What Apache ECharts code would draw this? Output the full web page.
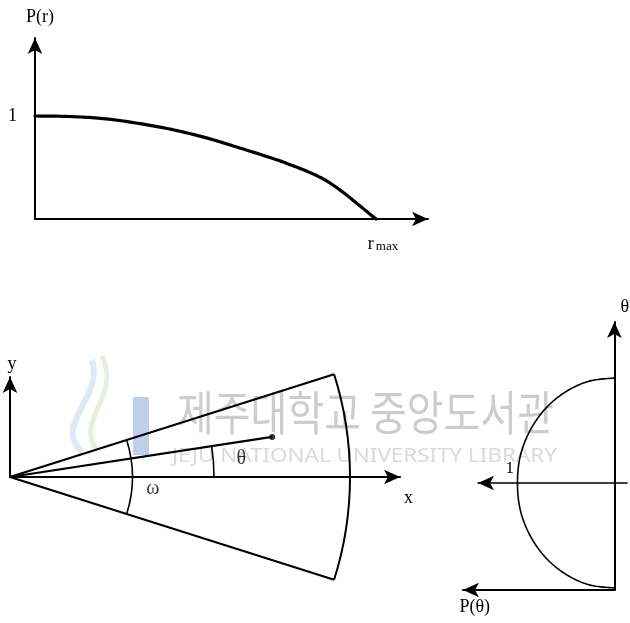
<!DOCTYPE html>
<html>
<head>
<meta charset="utf-8">
<script src="https://cdn.jsdelivr.net/npm/echarts@6/dist/echarts.min.js"></script>
<style>
  html, body { margin: 0; padding: 0; background: #fff; }
  #chart { width: 630px; height: 623px; }
</style>
</head>
<body>
<div id="chart"></div>
<script>
// Radial falloff P(r); r in units of r_max
const radialR = [0, 0.1, 0.2, 0.3, 0.4, 0.5, 0.6, 0.7, 0.75, 0.8, 0.85, 0.9, 0.95, 1];
const radialP = [1, 0.995, 0.975, 0.93, 0.87, 0.79, 0.69, 0.585, 0.525, 0.46, 0.38, 0.268, 0.135, 0];

// Sector geometry: angles in degrees, radii in units of the sector radius
const sectorEdges = [17.6, -17.6];
const sectorRadius = 1;
const thetaDeg = 8.7;
const pointRadius = 0.78;
const omegaArcRadius = 0.36;
const thetaArcRadius = 0.6;

// Angular profile P(θ); θ in units of half the sector opening
const profileTheta = [-1, -0.97, -0.87, -0.71, -0.5, -0.26, 0, 0.26, 0.5, 0.71, 0.87, 0.97, 1];
const profileP     = [0, 0.26, 0.5, 0.71, 0.87, 0.97, 1, 0.97, 0.87, 0.71, 0.5, 0.26, 0];

const SERIF = '"Liberation Serif", "DejaVu Serif", serif';
const INK = '#000';
const deg = Math.PI / 180;

// pixels per unit for each panel
const topScaleX = 341, topScaleY = 103;
const sectorScale = 340;
const profileScale = 105;

const arrowAxis = (extra) => Object.assign({
  show: true,
  onZero: true,
  symbol: ['none', 'arrow'],
  symbolSize: [11, 16],
  lineStyle: { color: INK, width: 2 }
}, extra || {});

const rayItems = sectorEdges.map(a => [a, sectorRadius]).concat([[thetaDeg, pointRadius]]);
const arcItems = [
  [sectorRadius, sectorEdges[1], sectorEdges[0]],
  [omegaArcRadius, sectorEdges[1], sectorEdges[0]],
  [thetaArcRadius, 0, thetaDeg]
];

// Catmull-Rom spline through screen points, sampled for a polyline
const splineThrough = (pts, steps) => {
  const out = [pts[0]];
  for (let i = 0; i < pts.length - 1; i++) {
    const p0 = pts[Math.max(i - 1, 0)], p1 = pts[i], p2 = pts[i + 1], p3 = pts[Math.min(i + 2, pts.length - 1)];
    for (let s = 1; s <= steps; s++) {
      const t = s / steps, t2 = t * t, t3 = t2 * t;
      const f = (a, b, c, d) => 0.5 * (2 * b + (-a + c) * t + (2 * a - 5 * b + 4 * c - d) * t2 + (-a + 3 * b - 3 * c + d) * t3);
      out.push([f(p0[0], p1[0], p2[0], p3[0]), f(p0[1], p1[1], p2[1], p3[1])]);
    }
  }
  return out;
};

// a smooth curve through [x, y] pairs, placed with the series' own axes
const smoothCurve = (pairs, width) => ({
  type: 'custom', clip: false, silent: true,
  renderItem: (params, api) => params.dataIndex === 0 ? {
    type: 'polyline',
    shape: { points: splineThrough(pairs.map(p => api.coord(p)), 12) },
    style: { stroke: INK, fill: null, lineWidth: width, lineJoin: 'round', lineCap: 'round' }
  } : null,
  data: pairs
});

const radialCurve = radialR.map((r, i) => [r, radialP[i]]);
const profileCurve = profileTheta.map((t, i) => [profileP[i], t]);

const chart = echarts.init(document.getElementById('chart'), null, { renderer: 'canvas' });

chart.setOption({
  animation: false,
  backgroundColor: '#fff',
  textStyle: { fontFamily: SERIF, color: INK },
  graphic: [
    // library watermark
    { type: 'bezierCurve', z: 0, shape: { x1: 82, y1: 452, cpx1: 52, cpy1: 425, cpx2: 104, cpy2: 398, x2: 92, y2: 360 }, style: { stroke: '#dbeaf6', lineWidth: 6, fill: null } },
    { type: 'bezierCurve', z: 0, shape: { x1: 97, y1: 450, cpx1: 74, cpy1: 420, cpx2: 122, cpy2: 396, x2: 102, y2: 356 }, style: { stroke: '#e4f0dd', lineWidth: 5, fill: null } },
    { type: 'rect', z: 0, shape: { x: 133, y: 397, width: 16, height: 58 }, style: { fill: '#bfd0ea' } },
    { type: 'text', z: 0, x: 177, y: 389, scaleY: 1.17, style: { text: '제주대학교 중앙도서관', font: '40px "Noto Sans CJK KR"', fill: '#cdcdcd' } },
    { type: 'text', z: 0, x: 172, y: 446, scaleX: 1.12, style: { text: 'JEJU NATIONAL UNIVERSITY LIBRARY', font: '20px "Noto Sans"', fill: '#dadada' } }
  ],
  grid: [
    { left: 35, top: 38, width: 393, height: 181 },
    { left: 10, top: 377, width: 390, height: 100 },
    { left: 478, top: 330, width: 149, height: 153 },
    { left: 463, top: 322, width: 164, height: 268 }
  ],
  xAxis: [
    {
      gridIndex: 0, type: 'value', min: 0, max: 393 / topScaleX, interval: 1,
      axisLine: arrowAxis(), axisTick: { show: false }, splitLine: { show: false },
      axisLabel: {
        margin: 16, color: INK,
        formatter: v => v === 1 ? '{r|r}{s|max}' : '',
        rich: {
          r: { fontFamily: SERIF, fontSize: 18, color: INK, padding: [0, 0, 5, 14] },
          s: { fontFamily: SERIF, fontSize: 13, color: INK, padding: [0, 0, 0, 2] }
        }
      }
    },
    {
      gridIndex: 1, type: 'value', min: 0, max: 390 / sectorScale,
      axisLine: arrowAxis(), axisTick: { show: false }, splitLine: { show: false }, axisLabel: { show: false },
      name: 'x', nameLocation: 'end', nameGap: 4,
      nameTextStyle: { fontFamily: SERIF, fontSize: 18, color: INK, verticalAlign: 'top', padding: [12, 0, 0, 0] }
    },
    {
      // θ = 0 reference line, marked at P = 1
      gridIndex: 2, type: 'value', inverse: true, min: 0, max: 149 / profileScale, interval: 1,
      axisLine: arrowAxis({ symbol: ['arrow', 'none'], lineStyle: { color: INK, width: 1.6 } }),
      axisTick: { show: false }, splitLine: { show: false },
      axisLabel: {
        inside: true, margin: 6, color: INK, fontFamily: SERIF, fontSize: 17,
        align: 'right', padding: [0, 8, 0, 0],
        formatter: v => v === 1 ? '1' : ''
      }
    },
    {
      gridIndex: 3, type: 'value', inverse: true, min: 0, max: 164 / profileScale, position: 'bottom',
      axisLine: arrowAxis({ onZero: false, symbol: ['arrow', 'none'] }),
      axisTick: { show: false }, splitLine: { show: false }, axisLabel: { show: false },
      name: 'P(θ)', nameLocation: 'end', nameGap: -27,
      nameTextStyle: { fontFamily: SERIF, fontSize: 18, color: INK, verticalAlign: 'top', padding: [8, 0, 0, 0] }
    }
  ],
  yAxis: [
    {
      gridIndex: 0, type: 'value', min: 0, max: 181 / topScaleY, interval: 1,
      axisLine: arrowAxis(), axisTick: { show: false }, splitLine: { show: false },
      axisLabel: { margin: 18, color: INK, fontFamily: SERIF, fontSize: 18, formatter: v => v === 1 ? '1' : '' },
      name: 'P(r)', nameLocation: 'end', nameGap: 12,
      nameTextStyle: { fontFamily: SERIF, fontSize: 18, color: INK, align: 'center', padding: [0, 0, 0, 10] }
    },
    {
      gridIndex: 1, type: 'value', min: 0, max: 100 / sectorScale,
      axisLine: arrowAxis(), axisTick: { show: false }, splitLine: { show: false }, axisLabel: { show: false },
      name: 'y', nameLocation: 'end', nameGap: 4,
      nameTextStyle: { fontFamily: SERIF, fontSize: 18, color: INK, align: 'center', padding: [0, 0, 0, 4] }
    },
    {
      gridIndex: 2, type: 'value', min: 0, max: 153 / profileScale, show: false
    },
    {
      gridIndex: 3, type: 'value', min: -107 / profileScale, max: 161 / profileScale,
      axisLine: arrowAxis(), axisTick: { show: false }, splitLine: { show: false }, axisLabel: { show: false },
      name: 'θ', nameLocation: 'end', nameGap: 6,
      nameTextStyle: { fontFamily: SERIF, fontSize: 18, color: INK, align: 'left', padding: [0, 0, 0, 6] }
    }
  ],
  series: [
    Object.assign(smoothCurve(radialCurve, 3.2), { xAxisIndex: 0, yAxisIndex: 0 }),
    {
      // sector edges and the direction of the point
      type: 'custom', xAxisIndex: 1, yAxisIndex: 1, clip: false,
      renderItem: (params, api) => {
        const a = api.value(0) * deg, len = api.value(1);
        const p0 = api.coord([0, 0]);
        const p1 = api.coord([len * Math.cos(a), len * Math.sin(a)]);
        return { type: 'line', shape: { x1: p0[0], y1: p0[1], x2: p1[0], y2: p1[1] }, style: { stroke: INK, lineWidth: 2.2 } };
      },
      data: rayItems
    },
    {
      // outer boundary and the ω / θ angle arcs
      type: 'custom', xAxisIndex: 1, yAxisIndex: 1, clip: false,
      renderItem: (params, api) => {
        const c = api.coord([0, 0]);
        const r = api.size([api.value(0), 0])[0];
        return {
          type: 'arc',
          shape: { cx: c[0], cy: c[1], r: r, startAngle: -api.value(2) * deg, endAngle: -api.value(1) * deg, clockwise: true },
          style: { stroke: INK, fill: null, lineWidth: params.dataIndex === 0 ? 2 : 1.6 }
        };
      },
      data: arcItems
    },
    {
      type: 'scatter', xAxisIndex: 1, yAxisIndex: 1, symbol: 'circle', symbolSize: 6, clip: false,
      itemStyle: { color: INK },
      data: [[pointRadius * Math.cos(thetaDeg * deg), pointRadius * Math.sin(thetaDeg * deg)]]
    },
    {
      type: 'scatter', xAxisIndex: 1, yAxisIndex: 1, symbolSize: 0, silent: true, clip: false,
      label: { show: true, position: 'inside', fontFamily: SERIF, fontSize: 20, color: INK, formatter: p => p.data[2] },
      data: [
        [omegaArcRadius + 0.06, -0.035, 'ω'],
        [thetaArcRadius + 0.08, 0.055, 'θ']
      ]
    },
    Object.assign(smoothCurve(profileCurve, 1.6), { xAxisIndex: 3, yAxisIndex: 3 })
  ]
});
</script>
</body>
</html>
